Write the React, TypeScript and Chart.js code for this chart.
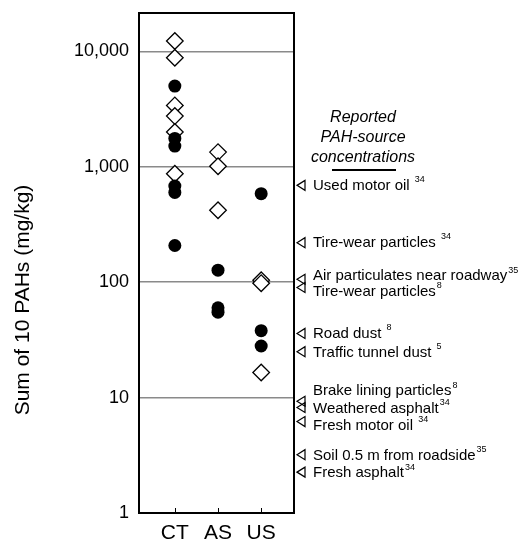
import React, { useEffect, useRef } from 'react';
import { Chart, registerables } from 'chart.js';

Chart.register(...registerables);

const categories = ['CT', 'AS', 'US'];

// Filled circles
const ctFilled = [5000, 1760, 1510, 680, 600, 208];
const asFilled = [127, 60, 55];
const usFilled = [585, 38, 28];

// Open diamonds
const ctOpen = [12300, 8800, 3400, 2750, 2000, 870];
const asOpen = [1340, 1010, 420];
const usOpen = [104, 98, 16.5];

const yTicks = [1, 10, 100, 1000, 10000];

const sourceLabels = [
  'Used motor oil ',
  'Tire-wear particles ',
  'Air particulates near roadway',
  'Tire-wear particles',
  'Road dust ',
  'Traffic tunnel dust ',
  'Brake lining particles',
  'Weathered asphalt',
  'Fresh motor oil ',
  'Soil 0.5 m from roadside',
  'Fresh asphalt',
];
const sourceRefs = ['34', '34', '35', '8', '8', '5', '8', '34', '34', '35', '34'];
const sourceValues = [690, 220, 106, 90, 36, 25, 9.3, 8.2, 6.2, 3.2, 2.26];

const headingLines = ['Reported', 'PAH-source', 'concentrations'];
const yTitle = 'Sum of 10 PAHs (mg/kg)';

const FONT = "'Liberation Sans', Arial, Helvetica, sans-serif";
const labelNudge = [0, 0, -3, 4, 0, 1, -10, 1, 4, 1, 1];

const toPoints = (idx: number, vals: number[]) => vals.map((v) => ({ x: idx + 1, y: v }));

const decor = {
  id: 'decor',
  afterDraw(chart: any) {
    const { ctx, chartArea: a, scales } = chart;
    const xs = scales.x;
    const ys = scales.y;
    ctx.save();
    ctx.strokeStyle = '#000';
    ctx.fillStyle = '#000';
    // frame
    ctx.lineWidth = 2;
    ctx.strokeRect(a.left, a.top, a.right - a.left, a.bottom - a.top);
    // category ticks (inward)
    ctx.lineWidth = 1;
    categories.forEach((_, i) => {
      const px = Math.round(xs.getPixelForValue(i + 1)) + 0.5;
      ctx.beginPath();
      ctx.moveTo(px, a.bottom);
      ctx.lineTo(px, a.bottom - 5);
      ctx.stroke();
    });
    // y title
    ctx.save();
    ctx.translate(23, 300);
    ctx.rotate(-Math.PI / 2);
    ctx.font = `21px ${FONT}`;
    ctx.textAlign = 'center';
    ctx.textBaseline = 'middle';
    ctx.fillText(yTitle, 0, 0);
    ctx.restore();
    // heading
    ctx.font = `italic 16px ${FONT}`;
    ctx.textAlign = 'center';
    ctx.textBaseline = 'middle';
    headingLines.forEach((t, i) => ctx.fillText(t, 363, 118 + i * 20));
    ctx.lineWidth = 2;
    ctx.beginPath();
    ctx.moveTo(332, 170);
    ctx.lineTo(396, 170);
    ctx.stroke();
    // sources
    sourceValues.forEach((v, i) => {
      const py = ys.getPixelForValue(v);
      const tipX = a.right + 3;
      ctx.lineWidth = 1.2;
      ctx.beginPath();
      ctx.moveTo(tipX, py);
      ctx.lineTo(tipX + 8, py - 5);
      ctx.lineTo(tipX + 8, py + 5);
      ctx.closePath();
      ctx.stroke();
      const ty = py + labelNudge[i];
      ctx.font = `15px ${FONT}`;
      ctx.textAlign = 'left';
      ctx.textBaseline = 'middle';
      const tx = a.right + 19;
      ctx.fillText(sourceLabels[i], tx, ty);
      const w = ctx.measureText(sourceLabels[i]).width;
      ctx.font = `9px ${FONT}`;
      ctx.fillText(sourceRefs[i], tx + w + 1, ty - 6);
    });
    ctx.restore();
  },
};

export default function App() {
  const ref = useRef<HTMLCanvasElement>(null);
  useEffect(() => {
    if (!ref.current) return;
    const chart = new Chart(ref.current, {
      type: 'scatter',
      data: {
        datasets: [
          {
            label: 'filled',
            data: [...toPoints(0, ctFilled), ...toPoints(1, asFilled), ...toPoints(2, usFilled)],
            pointStyle: 'circle',
            pointRadius: 6.5,
            pointHoverRadius: 6.5,
            backgroundColor: '#000',
            borderColor: '#000',
            borderWidth: 0,
          },
          {
            label: 'open',
            data: [...toPoints(0, ctOpen), ...toPoints(1, asOpen), ...toPoints(2, usOpen)],
            pointStyle: 'rectRot',
            pointRadius: 8.3,
            pointHoverRadius: 8.3,
            backgroundColor: '#fff',
            borderColor: '#000',
            borderWidth: 1.3,
          },
        ],
      },
      options: {
        animation: false,
        responsive: false,
        maintainAspectRatio: false,
        events: [],
        layout: { padding: { top: 13, right: 227, left: 0, bottom: 0 } },
        plugins: { legend: { display: false }, tooltip: { enabled: false } },
        scales: {
          x: {
            type: 'linear',
            min: 0.17,
            max: 3.76,
            afterBuildTicks: (s: any) => {
              s.ticks = categories.map((_, i) => ({ value: i + 1 }));
            },
            afterFit: (s: any) => {
              s.height = 29;
              s.paddingLeft = 0;
              s.paddingRight = 0;
            },
            ticks: {
              callback: (v: any) => categories[Number(v) - 1] ?? '',
              font: { size: 21, family: FONT },
              color: '#000',
              padding: 8,
              autoSkip: false,
              maxRotation: 0,
            },
            grid: { display: false, drawTicks: false },
            border: { display: true, color: '#000', width: 2 },
          },
          y: {
            type: 'logarithmic',
            min: 1,
            max: 21500,
            afterBuildTicks: (s: any) => {
              s.ticks = yTicks.map((v) => ({ value: v }));
            },
            afterFit: (s: any) => {
              s.width = 139;
              s.paddingTop = 0;
              s.paddingBottom = 0;
            },
            ticks: {
              callback: (v: any) => Number(v).toLocaleString('en-US'),
              font: { size: 18, family: FONT },
              color: '#000',
              padding: 10,
            },
            grid: {
              color: (c: any) => (c.tick && c.tick.value === 1 ? 'rgba(0,0,0,0)' : '#8a8a8a'),
              lineWidth: 1.5,
              drawTicks: false,
            },
            border: { display: true, color: '#000', width: 2 },
          },
        },
      },
      plugins: [decor],
    } as any);
    return () => chart.destroy();
  }, []);
  return (
    <div style={{ position: 'fixed', left: 0, top: 0, width: 521, height: 542, background: '#fff' }}>
      <canvas ref={ref} width={521} height={542} style={{ width: 521, height: 542 }} />
    </div>
  );
}
